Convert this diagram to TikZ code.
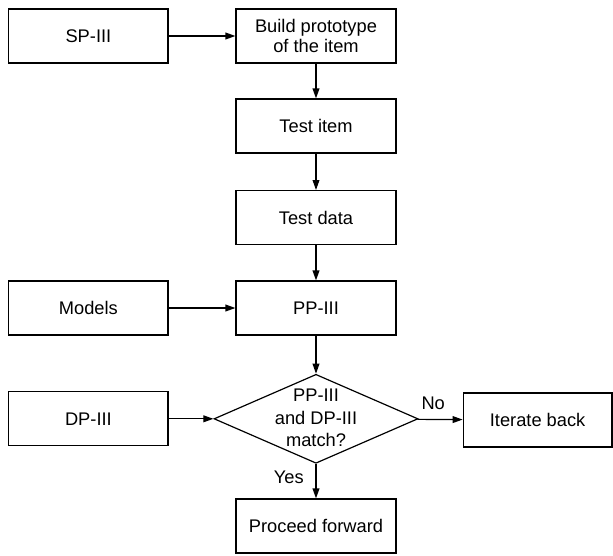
\documentclass[tikz,border=0pt]{standalone}
\usepackage{fontspec}
\setmainfont{Liberation Sans}
\usepackage{tikz}
\usetikzlibrary{positioning, calc, shapes.geometric, arrows.meta}
\tikzset{
  stepbox/.style={rectangle, draw=black, line width=0.85pt,
                  minimum width=4cm, minimum height=1.35cm,
                  align=center, font=\fontsize{13}{14.5}\selectfont},
  sidebox/.style={rectangle, draw=black, line width=0.85pt,
                  minimum width=3.98cm, minimum height=1.35cm,
                  align=center, font=\fontsize{13}{14.5}\selectfont},
  decision/.style={diamond, draw=black, line width=0.85pt, inner sep=0pt,
                   minimum width=5.1cm, minimum height=2.225cm},
  flow/.style={line width=0.85pt, -{Triangle[length=2.5mm,width=1.7mm]}},
  lbl/.style={font=\fontsize{13}{14.5}\selectfont},
}

\begin{document}
\begin{tikzpicture}
    \useasboundingbox (0,0) rectangle (15.325,-13.875);

    \node[sidebox] (SP) at (2.21,-0.9) {SP-III};
    \node[stepbox] (Build) at (7.9,-0.9) {Build prototype\\of the item};
    \node[stepbox] (TestItem) at (7.9,-3.15) {Test item};
    \node[stepbox] (TestData) at (7.9,-5.44) {Test data};
    \node[sidebox] (Models) at (2.21,-7.7) {Models};
    \node[stepbox] (PP) at (7.9,-7.7) {PP-III};
    \node[sidebox] (DP) at (2.21,-10.47) {DP-III};
    \node[decision] (Match) at (7.9,-10.47) {};
    \node[align=center, font=\fontsize{13}{16}\selectfont] (MatchText) at (7.9,-10.45)
      {PP-III\\and DP-III\\match?};
    \node[stepbox, minimum width=3.72cm] (Iterate) at (13.44,-10.5) {Iterate back};
    \node[stepbox] (Proceed) at (7.9,-13.15) {Proceed forward};

    \draw[flow] (SP) -- (Build);
    \draw[flow] (Build) -- (TestItem);
    \draw[flow] (TestItem) -- (TestData);
    \draw[flow] (TestData) -- (PP);
    \draw[flow] (Models) -- (PP);
    \draw[flow] (PP) -- (Match);
    \draw[flow] (DP) -- (Match);
    \draw[flow] (Match) -- node[lbl, above=3pt, pos=0.35] {No} (Iterate);
    \draw[flow] (Match) -- node[lbl, left=5pt, pos=0.4] {Yes} (Proceed);
  \end{tikzpicture}
\end{document}
